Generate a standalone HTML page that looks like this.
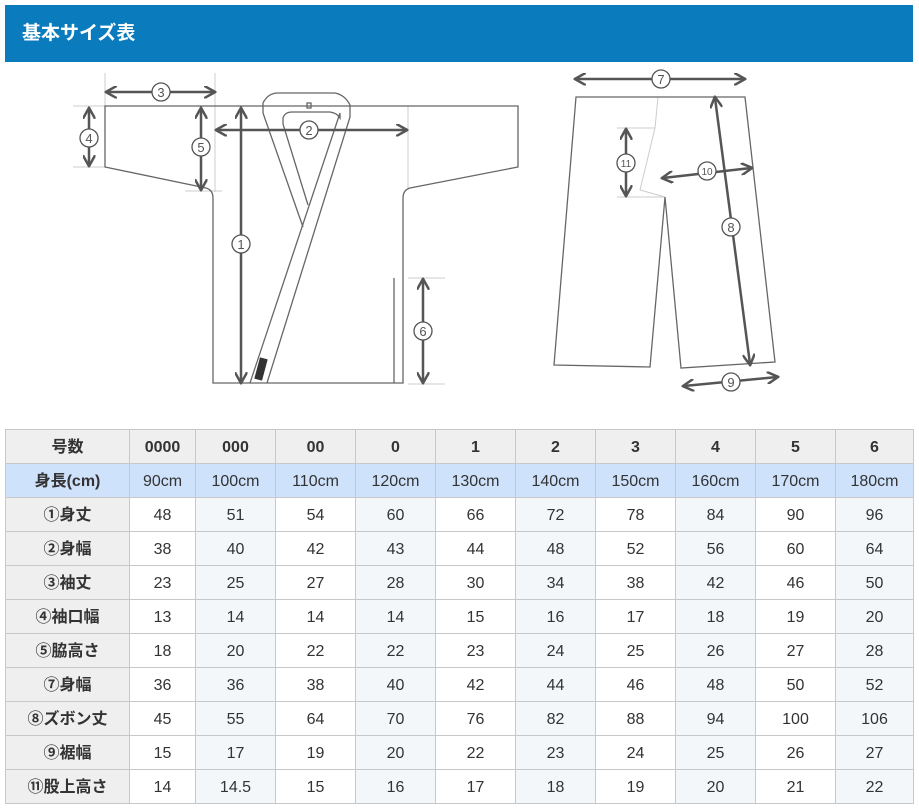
<!DOCTYPE html>
<html><head><meta charset="utf-8"><style>
body{margin:0;background:#fff;width:919px;height:811px;position:relative;font-family:"Liberation Sans","Noto Sans CJK JP",sans-serif;color:#333;overflow:hidden}
.hd{position:absolute;left:5px;top:5px;width:908px;height:57px;background:#0a7bbd;color:#fff;font-size:19px;line-height:57px;text-indent:17px;font-weight:bold}
svg{position:absolute;left:0;top:0}
table{position:absolute;left:5px;top:429px;border-collapse:collapse;font-size:16px;table-layout:fixed}
td{border:1px solid #c8c8c8;height:30px;padding-top:3px;line-height:20px;text-align:center;vertical-align:middle;padding-left:0;padding-right:0;padding-bottom:0;background:#fff;overflow:hidden}
td span{display:inline-block;line-height:20px;height:20px;vertical-align:middle}
td:nth-child(odd){background:#f4f7fa}
td:first-child{background:#efefef;font-weight:bold}
tr:first-child td{background:#efefef;font-weight:bold}
tr:nth-child(2) td{background:#cfe2fb}
</style></head><body>
<div class="hd">基本サイズ表</div>
<svg width="919" height="420" viewBox="0 0 919 420">
<defs><marker id="a" viewBox="0 0 10 10" refX="8" refY="5" markerWidth="5" markerHeight="5" orient="auto-start-reverse"><path d="M0,0 L9,5 L0,10" fill="none" stroke="#555" stroke-width="2"/></marker></defs>
<g stroke="#ccc" stroke-width="1" fill="none">
<line x1="105" y1="73" x2="105" y2="106"/><line x1="215" y1="73" x2="215" y2="192"/>
<line x1="73" y1="106" x2="105" y2="106"/><line x1="73" y1="167" x2="105" y2="167"/>
<line x1="185" y1="191" x2="222" y2="191"/><line x1="408" y1="106" x2="408" y2="190"/>
<line x1="408" y1="278" x2="445" y2="278"/><line x1="408" y1="384" x2="445" y2="384"/>
<line x1="658" y1="97" x2="655" y2="128"/><line x1="655" y1="128" x2="640" y2="190"/><line x1="640" y1="190" x2="665" y2="197"/>
<line x1="617" y1="128" x2="655" y2="128"/><line x1="617" y1="197" x2="665" y2="197"/>
</g>
<g stroke="#666" stroke-width="1.3" fill="none">
<path d="M105,106 L518,106 L518,167 L410,188 Q403,190 403,198 L403,383 L213,383 L213,198 Q213,190 206,188 L105,167 Z"/>
<line x1="394" y1="278" x2="394" y2="383"/>
<path d="M263,113 L263,103 Q268,93 278,93 L335,93 Q345,95 350,105 L350,117 L267,383"/>
<path d="M263,113 L303,227"/><path d="M283,124 L308,205"/>
<path d="M283,124 L283,118 Q285,112 292,112 L330,112 Q337,113 340,118 L340,113 L250,383"/>
<rect x="307" y="103" width="4" height="5"/>
<path d="M576,97 L745,97 L775,362 L681,368 L665,197 L650,367 L554,365 Z"/>
</g>
<rect x="257" y="358" width="8" height="22" fill="#333" transform="rotate(15 261 369)"/>
<g stroke="#555" stroke-width="2.5" fill="none" marker-start="url(#a)" marker-end="url(#a)">
<line x1="107" y1="92" x2="214" y2="92"/>
<line x1="89" y1="109" x2="89" y2="165"/>
<line x1="201" y1="109" x2="201" y2="189"/>
<line x1="241" y1="109" x2="241" y2="382"/>
<line x1="217" y1="130" x2="406" y2="130"/>
<line x1="423" y1="280" x2="423" y2="382"/>
<line x1="576" y1="79" x2="744" y2="79"/>
<line x1="626" y1="130" x2="626" y2="195"/>
<line x1="663" y1="178" x2="751" y2="168"/>
<line x1="715" y1="98" x2="750" y2="364"/>
<line x1="684" y1="386" x2="777" y2="377"/>
</g>
<g fill="#fff" stroke="#555" stroke-width="1.3">
<circle cx="161" cy="92" r="9"/><circle cx="89" cy="138" r="9"/><circle cx="201" cy="147" r="9"/>
<circle cx="241" cy="244" r="9"/><circle cx="309" cy="130" r="9"/><circle cx="423" cy="331" r="9"/>
<circle cx="661" cy="79" r="9"/><circle cx="626" cy="163" r="9"/><circle cx="707" cy="171" r="9"/>
<circle cx="731" cy="227" r="9"/><circle cx="731" cy="382" r="9"/>
</g>
<g font-size="13" fill="#555" text-anchor="middle" font-family="Liberation Sans,sans-serif">
<text x="161" y="97">3</text><text x="89" y="143">4</text><text x="201" y="152">5</text>
<text x="241" y="249">1</text><text x="309" y="135">2</text><text x="423" y="336">6</text>
<text x="661" y="84">7</text><text x="626" y="167" font-size="10">11</text><text x="707" y="175" font-size="10">10</text>
<text x="731" y="232">8</text><text x="731" y="387">9</text>
</g>
</svg>
<table>
<colgroup><col style="width:124px"><col style="width:66px"><col style="width:80px"><col style="width:80px"><col style="width:80px"><col style="width:80px"><col style="width:80px"><col style="width:80px"><col style="width:80px"><col style="width:80px"><col style="width:78px"></colgroup>
<tr><td><span>号数</span></td><td>0000</td><td>000</td><td>00</td><td>0</td><td>1</td><td>2</td><td>3</td><td>4</td><td>5</td><td>6</td></tr>
<tr><td><span>身長(cm)</span></td><td>90cm</td><td>100cm</td><td>110cm</td><td>120cm</td><td>130cm</td><td>140cm</td><td>150cm</td><td>160cm</td><td>170cm</td><td>180cm</td></tr>
<tr><td><span>①身丈</span></td><td>48</td><td>51</td><td>54</td><td>60</td><td>66</td><td>72</td><td>78</td><td>84</td><td>90</td><td>96</td></tr>
<tr><td><span>②身幅</span></td><td>38</td><td>40</td><td>42</td><td>43</td><td>44</td><td>48</td><td>52</td><td>56</td><td>60</td><td>64</td></tr>
<tr><td><span>③袖丈</span></td><td>23</td><td>25</td><td>27</td><td>28</td><td>30</td><td>34</td><td>38</td><td>42</td><td>46</td><td>50</td></tr>
<tr><td><span>④袖口幅</span></td><td>13</td><td>14</td><td>14</td><td>14</td><td>15</td><td>16</td><td>17</td><td>18</td><td>19</td><td>20</td></tr>
<tr><td><span>⑤脇高さ</span></td><td>18</td><td>20</td><td>22</td><td>22</td><td>23</td><td>24</td><td>25</td><td>26</td><td>27</td><td>28</td></tr>
<tr><td><span>⑦身幅</span></td><td>36</td><td>36</td><td>38</td><td>40</td><td>42</td><td>44</td><td>46</td><td>48</td><td>50</td><td>52</td></tr>
<tr><td><span>⑧ズボン丈</span></td><td>45</td><td>55</td><td>64</td><td>70</td><td>76</td><td>82</td><td>88</td><td>94</td><td>100</td><td>106</td></tr>
<tr><td><span>⑨裾幅</span></td><td>15</td><td>17</td><td>19</td><td>20</td><td>22</td><td>23</td><td>24</td><td>25</td><td>26</td><td>27</td></tr>
<tr><td><span>⑪股上高さ</span></td><td>14</td><td>14.5</td><td>15</td><td>16</td><td>17</td><td>18</td><td>19</td><td>20</td><td>21</td><td>22</td></tr>
</table>
</body></html>
